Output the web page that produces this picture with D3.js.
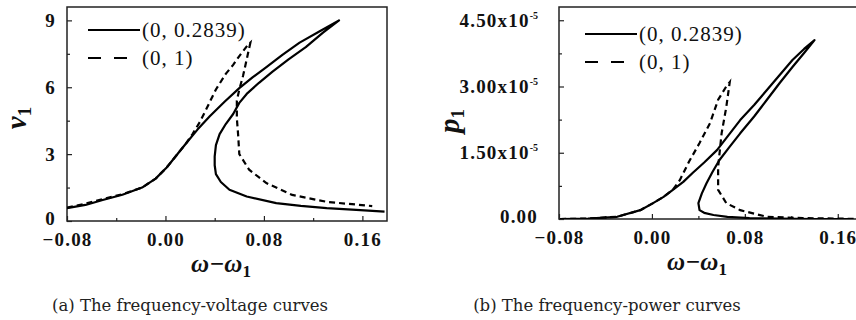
<!DOCTYPE html>
<html>
<head>
<meta charset="utf-8">
<script src="https://cdn.jsdelivr.net/npm/d3@7"></script>
<style>
  body { margin: 0; background: #fff; }
  svg { display: block; }
  .tick text { font-family: "Times New Roman", "Liberation Serif", Times, serif; font-weight: bold; font-size: 19px; letter-spacing: 1.2px; fill: #111; }
  .axis path { display: none; }
  .axis line { stroke: #222; stroke-width: 1.2; }
  .legend-text { font-family: "Times New Roman", "Liberation Serif", Times, serif; font-size: 21px; letter-spacing: 1px; fill: #111; }
  .axis-title { font-family: "Times New Roman", "Liberation Serif", Times, serif; font-weight: bold; font-style: italic; fill: #111; }
  .caption { font-family: "DejaVu Serif", serif; font-size: 16.5px; fill: #222; }
</style>
</head>
<body>
<svg id="chart" width="856" height="320"></svg>
<script>
/* TICKS */
const xTicks = [-0.08, 0.00, 0.08, 0.16];
const xMinor = [-0.04, 0.04, 0.12];
const vTicks = [0, 3, 6, 9];
const vMinor = [1.5, 4.5, 7.5];
const pTicks = [0, 1.5, 3.0, 4.5];      // in units of 10^-5
const pMinor = [0.75, 2.25, 3.75];

const legendLabels = ["(0, 0.2839)", "(0, 1)"];

/* (a) frequency-voltage data */
const vSolidX = [-0.080, -0.065, -0.051, -0.035, -0.019, -0.008, 0.001, 0.009, 0.017, 0.026, 0.036, 0.048, 0.060, 0.071, 0.082, 0.095, 0.109, 0.125, 0.141,
                 0.128, 0.114, 0.100, 0.087, 0.076, 0.066, 0.060, 0.055, 0.049, 0.044, 0.041, 0.040, 0.040, 0.041, 0.045, 0.052, 0.066, 0.090, 0.110, 0.131, 0.155, 0.178];
const vSolidY = [0.58, 0.72, 0.94, 1.18, 1.50, 1.90, 2.40, 2.95, 3.50, 4.10, 4.70, 5.35, 5.96, 6.45, 6.90, 7.45, 8.00, 8.50, 9.00,
                 8.45, 7.80, 7.25, 6.70, 6.20, 5.70, 5.30, 4.80, 4.35, 3.90, 3.40, 2.90, 2.50, 2.10, 1.75, 1.40, 1.10, 0.80, 0.68, 0.58, 0.50, 0.42];
const vDashX = [-0.080, -0.065, -0.051, -0.035, -0.019, -0.008, 0.001, 0.009, 0.017, 0.022, 0.028, 0.033, 0.041, 0.049, 0.055, 0.060, 0.067, 0.069,
                0.067, 0.065, 0.063, 0.060, 0.058, 0.058, 0.059, 0.060, 0.068, 0.082, 0.103, 0.131, 0.168];
const vDashY = [0.60, 0.78, 0.98, 1.20, 1.50, 1.90, 2.40, 2.95, 3.50, 3.90, 4.45, 5.00, 5.90, 6.60, 7.00, 7.40, 7.90, 8.00,
                7.50, 7.00, 6.50, 5.90, 5.40, 4.60, 3.90, 3.00, 2.30, 1.70, 1.17, 0.86, 0.67];

/* (b) frequency-power data, x10^-5 */
const pSolidX = [-0.079, -0.055, -0.030, -0.010, 0.001, 0.010, 0.018, 0.027, 0.035, 0.045, 0.056, 0.066, 0.076, 0.088, 0.099, 0.110, 0.121, 0.131, 0.140,
                 0.131, 0.121, 0.110, 0.099, 0.088, 0.076, 0.067, 0.058, 0.052, 0.047, 0.043, 0.040, 0.041, 0.045, 0.053, 0.065, 0.084, 0.110, 0.140, 0.173];
const pSolidY = [0.00, 0.01, 0.05, 0.20, 0.36, 0.50, 0.66, 0.84, 1.04, 1.28, 1.56, 1.90, 2.24, 2.58, 2.92, 3.26, 3.60, 3.85, 4.05,
                 3.76, 3.44, 3.08, 2.70, 2.32, 1.94, 1.64, 1.33, 1.06, 0.81, 0.58, 0.36, 0.20, 0.14, 0.09, 0.05, 0.02, 0.01, 0.00, 0.00];
const pDashX = [-0.079, -0.055, -0.030, -0.010, 0.001, 0.010, 0.018, 0.024, 0.032, 0.041, 0.050, 0.057, 0.064, 0.067,
                0.064, 0.060, 0.057, 0.057, 0.064, 0.076, 0.099, 0.130, 0.160, 0.180];
const pDashY = [0.00, 0.01, 0.05, 0.20, 0.36, 0.50, 0.66, 0.88, 1.30, 1.72, 2.17, 2.70, 3.00, 3.10,
                2.53, 1.94, 1.18, 0.66, 0.36, 0.20, 0.05, 0.02, 0.01, 0.00];

const svg = d3.select("#chart");

function zip(xs, ys) { return xs.map((x, i) => [x, ys[i]]); }

function drawPanel(opt) {
  const g = svg.append("g").attr("transform", "translate(" + opt.left + "," + opt.top + ")");

  const x = d3.scaleLinear().domain([-0.08, 0.18]).range([0, opt.width]);
  const y = d3.scaleLinear().domain(opt.yDomain).range([opt.height, 0]);

  const clipId = "clip-" + opt.id;
  g.append("clipPath").attr("id", clipId)
    .append("rect").attr("width", opt.width).attr("height", opt.height);

  // axes, ticks pointing inward
  g.append("g").attr("class", "axis").attr("font-family", null)
    .attr("transform", "translate(0," + opt.height + ")")
    .call(d3.axisBottom(x).tickValues(xTicks).tickSize(-5).tickPadding(12).tickFormat(d3.format(".2f")));
  g.append("g").attr("class", "axis")
    .attr("transform", "translate(0," + opt.height + ")")
    .call(d3.axisBottom(x).tickValues(xMinor).tickSize(-3).tickFormat(""));

  const yAxis = g.append("g").attr("class", "axis")
    .call(d3.axisLeft(y).tickValues(opt.yTicks).tickSize(-5).tickPadding(opt.yPad).tickFormat(opt.yFormat));
  g.append("g").attr("class", "axis")
    .call(d3.axisLeft(y).tickValues(opt.yMinor).tickSize(-3).tickFormat(""));

  // the zero label sits a little higher so it clears the x labels
  yAxis.selectAll(".tick text").filter(d => d === 0).attr("dy", "0.2em");

  if (opt.sup) {
    yAxis.selectAll(".tick text").each(function(d) {
      if (d === 0) return;
      d3.select(this).append("tspan")
        .attr("dy", -8).attr("font-size", 10).style("letter-spacing", "0px").text("-5");
    });
  }

  g.append("rect")
    .attr("width", opt.width).attr("height", opt.height)
    .attr("fill", "none").attr("stroke", "#222").attr("stroke-width", 1.5);

  const line = d3.line().x(d => x(d[0])).y(d => y(d[1]));

  const curves = g.append("g").attr("clip-path", "url(#" + clipId + ")");
  curves.append("path").datum(zip(opt.solidX, opt.solidY))
    .attr("d", line).attr("fill", "none").attr("stroke", "#000")
    .attr("stroke-width", 2.2).attr("stroke-linejoin", "round");
  curves.append("path").datum(zip(opt.dashX, opt.dashY))
    .attr("d", line).attr("fill", "none").attr("stroke", "#000")
    .attr("stroke-width", 2.2).attr("stroke-dasharray", "6,4");

  // legend
  const lg = g.append("g").attr("transform", "translate(" + opt.legX + "," + opt.legY + ")");
  legendLabels.forEach((lab, i) => {
    const yy = i * 28;
    lg.append("line").attr("x1", 0).attr("x2", 52).attr("y1", yy).attr("y2", yy)
      .attr("stroke", "#000").attr("stroke-width", 2.2)
      .attr("stroke-dasharray", i === 0 ? null : "13,13");
    lg.append("text").attr("class", "legend-text")
      .attr("x", 54).attr("y", yy + 7).text(lab);
  });

  // axis titles
  const xt = svg.append("text").attr("class", "axis-title")
    .attr("x", opt.xTitleX).attr("y", opt.top + opt.height + 51)
    .attr("text-anchor", "middle").attr("font-size", 25);
  xt.append("tspan").text("ω−ω");
  xt.append("tspan").attr("font-size", 17).attr("dy", 5).attr("font-style", "normal").text("1");

  const yt = svg.append("text").attr("class", "axis-title")
    .attr("transform", "translate(" + opt.yTitleX + "," + opt.yTitleY + ") rotate(-90)")
    .attr("text-anchor", "middle").attr("font-size", 29);
  yt.append("tspan").text(opt.yName);
  yt.append("tspan").attr("font-size", 19).attr("dy", 5).attr("font-style", "normal").text("1");

  svg.append("text").attr("class", "caption")
    .attr("x", opt.capX).attr("y", 311).attr("text-anchor", "middle").text(opt.caption);
}

drawPanel({
  id: "a", left: 67, top: 7, width: 320, height: 214,
  yDomain: [0, 9.6], yTicks: vTicks, yMinor: vMinor, yPad: 11, yFormat: d3.format("d"),
  solidX: vSolidX, solidY: vSolidY, dashX: vDashX, dashY: vDashY,
  legX: 21, legY: 23, xTitleX: 221, yTitleX: 26, yTitleY: 118,
  yName: "v", caption: "(a) The frequency-voltage curves", capX: 190
});

drawPanel({
  id: "b", left: 559, top: 7, width: 302, height: 212,
  yDomain: [0, 4.8], yTicks: pTicks, yMinor: pMinor, yPad: 21, yFormat: d => d === 0 ? "0.00" : d3.format(".2f")(d) + "x10",
  sup: true,
  solidX: pSolidX, solidY: pSolidY, dashX: pDashX, dashY: pDashY,
  legX: 26, legY: 27, xTitleX: 697, yTitleX: 459, yTitleY: 121,
  yName: "p", caption: "(b) The frequency-power curves", capX: 607
});
</script>
</body>
</html>
